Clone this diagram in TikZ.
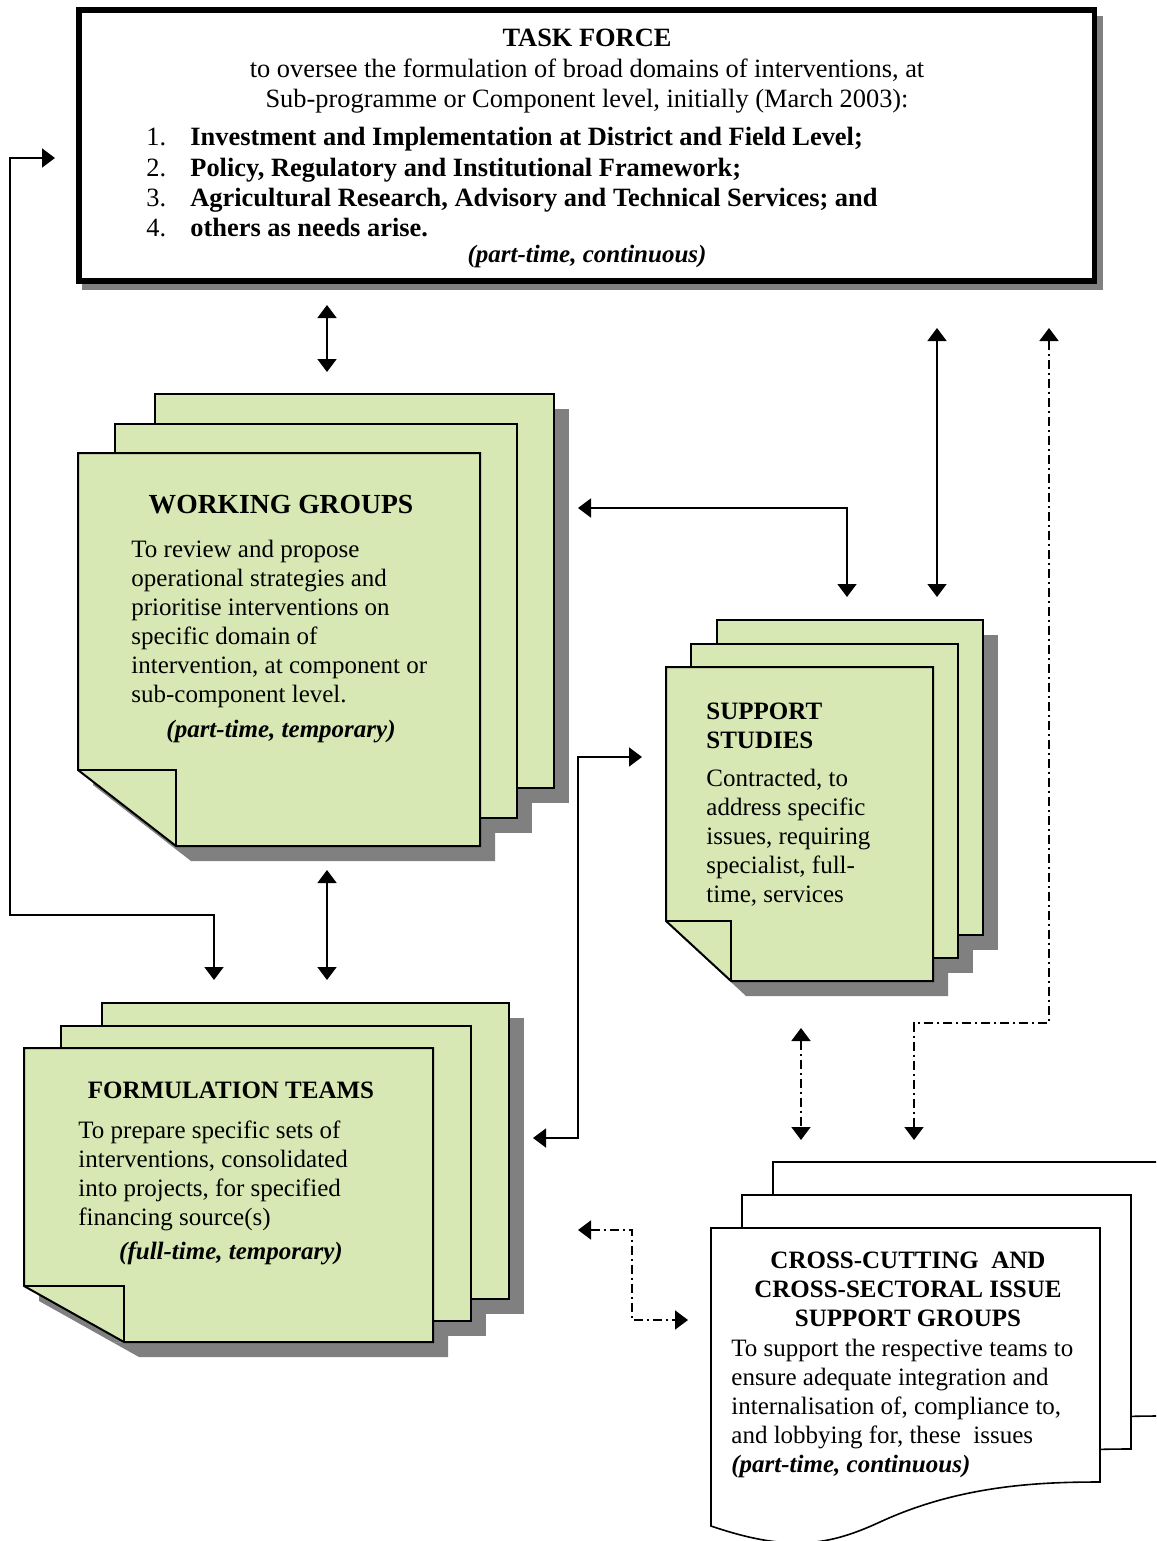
\documentclass[tikz,border=0pt]{standalone}
\usepackage{fontspec}
\setmainfont{Liberation Serif}
\usetikzlibrary{arrows.meta}
\definecolor{pagegreen}{RGB}{216,232,180}
\definecolor{shadowgray}{RGB}{128,128,128}
\tikzset{
  page/.style={draw=black, line width=1pt, fill=pagegreen},
  wpage/.style={draw=black, line width=0.8pt, fill=white},
  shade/.style={fill=shadowgray, draw=none},
  tip/.tip={Triangle[length=6.5pt,width=9.5pt]},
  conn/.style={line width=0.8pt, tip-tip},
  dconn/.style={conn, line width=0.9pt, dash pattern=on 4.5pt off 2pt on 1pt off 2pt},
  txt/.style={inner sep=0pt, font=\fontsize{12.5}{14.5}\selectfont},
  bodytxt/.style={txt, align=left, anchor=north west},
  titletxt/.style={inner sep=0pt, font=\fontsize{12.5}{14.5}\selectfont\bfseries},
  bigtitle/.style={inner sep=0pt, font=\fontsize{13.8}{16}\selectfont\bfseries},
  foot/.style={inner sep=0pt, font=\fontsize{12.5}{14.5}\selectfont\bfseries\itshape}
}
\begin{document}
\begin{tikzpicture}[x=0.5pt,y=-0.5pt]
\useasboundingbox (0,0) rectangle (1156,1541);
\clip (0,0) rectangle (1156,1541);

% ---------------- TASK FORCE ----------------
\fill[shadowgray] (82,16) rectangle (1103,290);
\draw[line width=2.8pt, fill=white] (79,10) rectangle (1094.5,281);
\node[inner sep=0pt, align=center, anchor=north, font=\fontsize{13.2}{15.25}\selectfont] (tftitle) at (587,29)
  {\textbf{TASK FORCE}\\to oversee the formulation of broad domains of interventions, at\\Sub-programme or Component level, initially (March 2003):};
\node[inner sep=0pt, align=left, anchor=north west, font=\fontsize{13.2}{15.15}\selectfont] (tflist) at (146,127)
  {\makebox[22pt][l]{1.}\textbf{Investment and Implementation at District and Field Level;}\\
   \makebox[22pt][l]{2.}\textbf{Policy, Regulatory and Institutional Framework;}\\
   \makebox[22pt][l]{3.}\textbf{Agricultural Research, Advisory and Technical Services; and}\\
   \makebox[22pt][l]{4.}\textbf{others as needs arise.}};
\node[foot] (tffoot) at (587,256) {(part-time, continuous)};

% ---------------- WORKING GROUPS ----------------
\begin{scope}[shift={(15,15)}]
  \fill[shadowgray] (155,394) rectangle (554,788);
  \fill[shadowgray] (115,424) rectangle (517,818);
  \fill[shadowgray] (78,453) -- (480,453) -- (480,846) -- (176,846) -- (78,770) -- cycle;
\end{scope}
\draw[page] (155,394) rectangle (554,788);
\draw[page] (115,424) rectangle (517,818);
\fill[white] (77,770) -- (176,846) -- (77,847) -- cycle;
\begin{scope}
  \clip (77,770) -- (176,846) -- (77,847) -- cycle;
  \fill[shadowgray, shift={(15,15)}] (78,453) -- (480,453) -- (480,846) -- (176,846) -- (78,770) -- cycle;
\end{scope}
\draw[page] (78,453) -- (480,453) -- (480,846) -- (176,846) -- (78,770) -- cycle;
\draw[line width=1pt] (78,770) -- (176,770) -- (176,846);
\node[bigtitle] (wgtitle) at (281,505) {WORKING GROUPS};
\node[bodytxt] (wgbody) at (131,540)
  {To review and propose\\operational strategies and\\prioritise interventions on\\specific domain of\\intervention, at component or\\sub-component level.};
\node[foot] (wgfoot) at (281,732) {(part-time, temporary)};

% ---------------- SUPPORT STUDIES ----------------
\begin{scope}[shift={(15,15)}]
  \fill[shadowgray] (717,620) rectangle (983,935);
  \fill[shadowgray] (691,644) rectangle (958,958);
  \fill[shadowgray] (666,667) -- (933,667) -- (933,981) -- (731,981) -- (666,921) -- cycle;
\end{scope}
\draw[page] (717,620) rectangle (983,935);
\draw[page] (691,644) rectangle (958,958);
\fill[white] (665,921) -- (731,981) -- (665,982) -- cycle;
\begin{scope}
  \clip (665,921) -- (731,981) -- (665,982) -- cycle;
  \fill[shadowgray, shift={(15,15)}] (666,667) -- (933,667) -- (933,981) -- (731,981) -- (666,921) -- cycle;
\end{scope}
\draw[page] (666,667) -- (933,667) -- (933,981) -- (731,981) -- (666,921) -- cycle;
\draw[line width=1pt] (666,921) -- (731,921) -- (731,981);
\node[titletxt, align=left, anchor=north west] (sstitle) at (706,703) {SUPPORT\\STUDIES};
\node[bodytxt] (ssbody) at (706,769)
  {Contracted, to\\address specific\\issues, requiring\\specialist, full-\\time, services};

% ---------------- FORMULATION TEAMS ----------------
\begin{scope}[shift={(15,15)}]
  \fill[shadowgray] (102,1003) rectangle (509,1299);
  \fill[shadowgray] (61,1026) rectangle (471,1321);
  \fill[shadowgray] (24,1048) -- (433,1048) -- (433,1342) -- (124,1342) -- (24,1286) -- cycle;
\end{scope}
\draw[page] (102,1003) rectangle (509,1299);
\draw[page] (61,1026) rectangle (471,1321);
\fill[white] (23,1286) -- (124,1342) -- (23,1343) -- cycle;
\begin{scope}
  \clip (23,1286) -- (124,1342) -- (23,1343) -- cycle;
  \fill[shadowgray, shift={(15,15)}] (24,1048) -- (433,1048) -- (433,1342) -- (124,1342) -- (24,1286) -- cycle;
\end{scope}
\draw[page] (24,1048) -- (433,1048) -- (433,1342) -- (124,1342) -- (24,1286) -- cycle;
\draw[line width=1pt] (24,1286) -- (124,1286) -- (124,1342);
\node[titletxt] (fttitle) at (231,1090) {FORMULATION TEAMS};
\node[bodytxt] (ftbody) at (78,1120)
  {To prepare specific sets of\\interventions, consolidated\\into projects, for specified\\financing source(s)};
\node[foot] (ftfoot) at (231,1253) {(full-time, temporary)};

% ---------------- CROSS-CUTTING ----------------
\foreach \s in {2,1,0} {
  \draw[wpage, shift={({31*\s},{-33*\s})}] (711,1228) -- (1100,1228) -- (1100,1482)
     .. controls (1040,1482) and (960,1485) .. (880,1522)
     .. controls (830,1545) and (790,1553) .. (711,1526) -- cycle;
}
\node[titletxt, align=center, anchor=north] (cctitle) at (908,1252)
  {CROSS-CUTTING\ \ AND\\CROSS-SECTORAL ISSUE\\SUPPORT GROUPS};
\node[bodytxt] (ccbody) at (731,1339)
  {To support the respective teams to\\ensure adequate integration and\\internalisation of, compliance to,\\and lobbying for, these\ \ issues\\\textbf{\textit{(part-time, continuous)}}};

% ---------------- CONNECTORS ----------------
\coordinate (tfwgA) at (327,305);
\coordinate (tfwgB) at (327,372);
\draw[conn] (tfwgA) -- (tfwgB);

\coordinate (wgssA) at (578,508);
\coordinate (wgssC) at (847,508);
\coordinate (wgssB) at (847,597);
\draw[conn] (wgssA) -- (wgssC) -- (wgssB);

\coordinate (tfssA) at (937,328);
\coordinate (tfssB) at (937,597);
\draw[conn] (tfssA) -- (tfssB);

\coordinate (tfccA) at (1049,328);
\coordinate (tfccC1) at (1049,1023);
\coordinate (tfccC2) at (914,1023);
\coordinate (tfccB) at (914,1140);
\draw[dconn] (tfccA) -- (tfccC1) -- (tfccC2) -- (tfccB);

\coordinate (loopA) at (55,158);
\coordinate (loopC1) at (10,158);
\coordinate (loopC2) at (10,915);
\coordinate (loopC3) at (214,915);
\coordinate (loopB) at (214,980);
\draw[conn] (loopA) -- (loopC1) -- (loopC2) -- (loopC3) -- (loopB);

\coordinate (wgftA) at (327,870);
\coordinate (wgftB) at (327,980);
\draw[conn] (wgftA) -- (wgftB);

\coordinate (ftssA) at (533,1138);
\coordinate (ftssC1) at (578,1138);
\coordinate (ftssC2) at (578,757);
\coordinate (ftssB) at (642,757);
\draw[conn] (ftssA) -- (ftssC1) -- (ftssC2) -- (ftssB);

\coordinate (ssccA) at (801,1028);
\coordinate (ssccB) at (801,1140);
\draw[dconn] (ssccA) -- (ssccB);

\coordinate (ftccA) at (578,1230);
\coordinate (ftccC1) at (632,1230);
\coordinate (ftccC2) at (632,1320);
\coordinate (ftccB) at (688,1320);
\draw[dconn] (ftccA) -- (ftccC1) -- (ftccC2) -- (ftccB);
\end{tikzpicture}
\end{document}
